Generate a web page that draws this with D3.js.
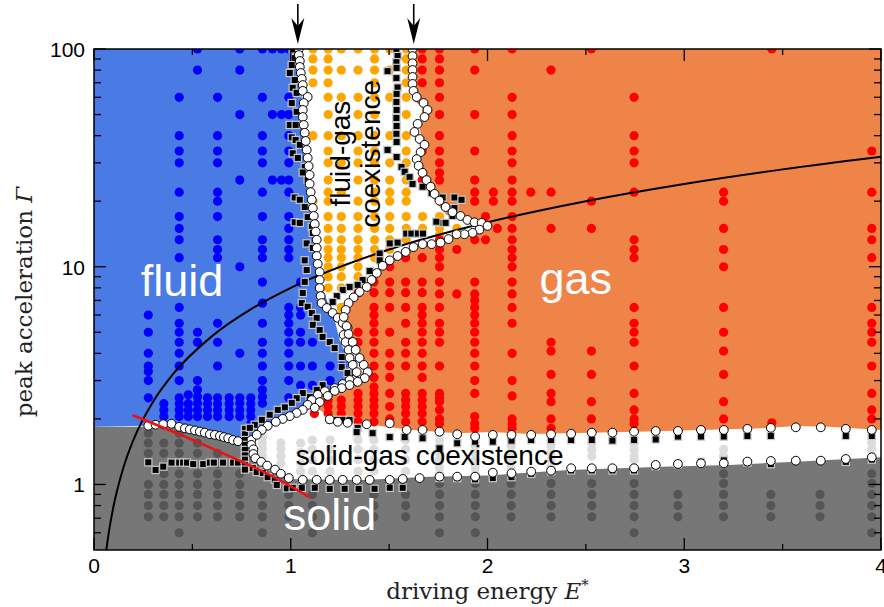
<!DOCTYPE html>
<html>
<head>
<meta charset="utf-8" />
<title></title>
<style>
html, body { margin: 0; padding: 0; background: #fff; }
svg { display: block; }
.tick-label { font-family: "Liberation Sans", Arial, sans-serif; font-size: 21px; fill: #000; }
.axis-title { font-family: "DejaVu Serif", "Liberation Serif", serif; font-size: 23px; fill: #222; }
.region { font-family: "Liberation Sans", Arial, sans-serif; }
</style>
</head>
<body>
<div id="chart"></div>
<script src="https://cdn.jsdelivr.net/npm/d3@7/dist/d3.min.js"></script>
<script>
// ---- data ----
var xTicks = [0, 1, 2, 3, 4];
var xMinor = [0.5, 1.5, 2.5, 3.5];
var yTicks = [1, 10, 100];
var yMinor = [0.6, 0.7, 0.8, 0.9, 2, 3, 4, 5, 6, 7, 8, 9, 20, 30, 40, 50, 60, 70, 80, 90];

// background phase regions [E*, Gamma]
var solidRegion = [[0,0.5],[0,1.84],[0.276,1.84],[0.394,1.88],[0.487,1.77],[0.589,1.68],[0.682,1.61],[0.732,1.56],[0.77,1.55],[0.79,1.5],[0.8,1.35],[0.83,1.25],[0.88,1.17],[0.93,1.11],[0.98,1.06],[1.2,1.05],[1.365,1.048],[1.706,1.086],[2.0,1.1],[2.416,1.166],[2.888,1.207],[3.228,1.229],[3.569,1.273],[4,1.333],[4,0.5]];
var fluidRegion = [[0,1.84],[0,100],[1.025,100],[1.046,89],[1.056,58.3],[1.061,38.2],[1.081,25],[1.096,18.8],[1.112,14.8],[1.132,9.36],[1.183,7.03],[1.223,5.69],[1.249,4.61],[1.299,3.61],[1.284,3.02],[1.198,2.66],[1.112,2.52],[1.071,2.32],[1.036,2.2],[0.97,2.02],[0.893,1.876],[0.817,1.72],[0.766,1.6],[0.726,1.57],[0.682,1.63],[0.589,1.7],[0.487,1.79],[0.394,1.9],[0.276,1.86]];
var gasRegion = [[1.619,100],[4,100],[4,1.78],[3.736,1.84],[3.569,1.857],[3.396,1.81],[2.756,1.748],[2.213,1.706],[2.025,1.74],[1.843,1.72],[1.619,1.78],[1.416,1.876],[1.198,2.04],[1.112,2.32],[1.147,2.66],[1.284,2.86],[1.35,3.12],[1.391,3.54],[1.284,4.76],[1.284,6.13],[1.315,7.03],[1.386,7.66],[1.416,8.69],[1.503,10.7],[1.589,11.7],[1.67,12.9],[1.822,13.7],[1.959,14.3],[1.985,15.4],[1.909,16.1],[1.792,17.3],[1.741,19.6],[1.69,23.2],[1.655,27],[1.64,30.9],[1.67,35.5],[1.655,43.8],[1.67,54.2],[1.619,58.3]];

// simulation points, by column [E*, [Gamma...]]
var blueDots = [
  [0.276, [6, 5, 4, 3.5, 3.3, 3, 2.5]],
  [0.355, [2.35, 2.2, 2.05]],
  [0.433, [60, 40, 34, 30, 22, 17, 15, 13.3, 11, 6.5, 5.5, 5, 4.5, 4, 3.5, 3, 2.5, 2.35, 2.2, 2.05]],
  [0.479, [2.58, 2.35, 2.2, 2.05]],
  [0.526, [100, 80, 5, 4.5, 3, 2.72, 2.53, 2.36, 2.2, 2.05]],
  [0.577, [2.5, 2.35, 2.2, 2.05]],
  [0.628, [60, 40, 34, 30, 22, 20, 17, 13.3, 12, 11, 5.5, 4.5, 3.5, 2.5, 2.35, 2.2, 2.05]],
  [0.687, [2.5, 2.35, 2.2, 2.05]],
  [0.741, [100, 80, 50, 25, 10, 4, 2.5, 2.36, 2.2, 2.05]],
  [0.797, [2.5, 2.35, 2.2, 2.05, 1.9]],
  [0.856, [100, 60, 40, 34, 30, 22, 17, 13.3, 12, 11, 8.5, 6.8, 5.5, 4.5, 4, 3.5, 3, 2.72, 2.53, 2.36]],
  [0.907, [100, 50, 25]],
  [0.953, [100, 50, 25]],
  [0.99, [100, 60, 50, 40, 34, 30, 25, 22, 17, 15, 13.3, 12, 11, 6.5, 6, 5.5, 5, 4.5, 4, 3.5, 3, 2.5]],
  [1.05, [8.5, 6.5, 6, 5, 4.5, 3.5, 2.85]],
  [1.11, [4.5, 3.5, 2.85]],
  [1.2, [3.5, 3.0]],
  [1.26, [3.5]]
];
var orangeDots = [
  [1.113, [100, 90, 80, 70, 40, 20, 17, 15]],
  [1.19, [100, 90, 80, 70, 60, 50, 40, 34, 30, 25, 22, 20, 17, 15, 13.3, 12, 11, 10, 9, 8]],
  [1.257, [100, 80, 60, 40, 30, 22, 17, 15, 13.3, 12, 11, 10, 9, 8, 6.5, 6]],
  [1.342, [100, 80, 60, 50, 40, 34, 30, 25, 20, 17, 15, 13.3, 12, 11, 10, 9]],
  [1.426, [100, 90, 80, 70, 60, 50, 40, 34, 30, 25, 22, 20, 17, 15, 13.3, 12, 11]],
  [1.503, [100, 80, 60, 40, 30, 25, 22, 20, 17, 15, 13.3, 12]],
  [1.587, [100, 90, 80, 70, 60, 50, 40, 34, 30, 25, 22, 20, 17, 15, 13.3]],
  [1.67, [17, 15]],
  [1.756, [17, 15, 14]],
  [1.844, [15, 14]]
];
var redDots = [
  [1.12, [2.12]],
  [1.19, [2.44, 2.28, 2.12]],
  [1.257, [2.44, 2.28, 2.12]],
  [1.342, [7.6, 5, 4.5, 2.62, 2.44, 2.28, 2.12, 1.94]],
  [1.423, [8.5, 7.6, 6.5, 6, 5.5, 5, 4.5, 4, 3.5, 3.1, 2.8, 2.62, 2.44, 2.28, 2.12, 1.94]],
  [1.503, [10, 8.5, 7.6, 6.5, 5, 4, 3.5, 3.1, 2.62, 2.28, 2.0]],
  [1.584, [11, 8.5, 7.6, 6.5, 5.5, 4.5, 4, 3.5, 2.62, 2.44, 2.28, 2.12, 1.94]],
  [1.668, [100, 90, 80, 70, 34, 25, 11, 8.5, 7.6, 6.5, 6, 5.5, 5, 4.5, 4, 3.5, 3.1, 2.62, 2.44, 2.28, 2.12, 1.94]],
  [1.756, [100, 90, 80, 70, 60, 50, 40, 34, 30, 27, 25, 13.3, 12, 11, 10, 8.5, 7.5, 6.5, 5.5, 5, 4.5, 3.5, 2.62, 2.5, 2.4, 2.2, 2.0, 1.9]],
  [1.844, [12, 7.5]],
  [1.935, [100, 80, 50, 34, 25, 22, 20, 13.3, 8.5, 7.5, 7, 6.5, 6, 5.5, 5, 4.5, 4, 3.5, 3, 2.62, 2.05, 1.9, 1.81]],
  [1.99, [17, 13.3]],
  [2.03, [22, 20]],
  [2.05, [15]],
  [2.125, [100, 60, 50, 40, 34, 30, 25, 22, 20, 17, 15, 13.3, 12, 11, 10, 8.5, 7.5, 6.5, 5.5, 4, 3, 2.55, 2.0, 1.9, 1.81]],
  [2.22, [22]],
  [2.323, [80, 22, 15, 4.5, 4.1, 3.2, 2.62, 2.4, 2.0, 1.81]],
  [2.528, [100, 20, 15, 4.1, 3.2, 2.4, 2.0]],
  [2.745, [60, 40, 34, 30, 22, 13.3, 12, 11, 6.5, 5.5, 5, 4.5, 3.5, 2.62, 2.2, 2.0, 1.9]],
  [3.2, [22, 20, 15, 12, 10, 6.5, 5, 4.1, 3.2, 2.4, 2.0]],
  [3.445, [100, 1.92]],
  [3.953, [34, 22, 15, 13.3, 11, 6.5, 5.5, 5, 4.5, 3.5, 2.62, 2.2, 2.0]]
];
var solidDots = [
  [0.276, [1.72, 1.55, 1.39, 1.0, 0.9, 0.8, 0.71]],
  [0.355, [1.55, 1.39, 1.12, 1.0, 0.9, 0.8, 0.71]],
  [0.433, [1.72, 1.55, 1.39, 1.25, 1.12, 1.0, 0.9, 0.8, 0.71, 0.6]],
  [0.526, [1.55, 1.39, 1.12, 1.0, 0.9, 0.8, 0.71]],
  [0.628, [1.39, 1.25, 1.12, 1.0, 0.9, 0.8, 0.71]],
  [0.741, [1.12, 1.0, 0.9, 0.8, 0.71]],
  [0.856, [0.9, 0.8, 0.71, 0.6]],
  [0.99, [0.9, 0.8, 0.71]],
  [1.11, [0.9, 0.8, 0.71, 0.6]],
  [1.423, [0.9, 0.8, 0.71]],
  [1.584, [0.9, 0.8, 0.71]],
  [1.756, [1.01, 0.9, 0.8, 0.71, 0.6]],
  [1.938, [1.01, 0.9, 0.8, 0.71, 0.6]],
  [2.12, [1.01, 0.9, 0.8, 0.71]],
  [2.323, [1.01, 0.9, 0.8, 0.71]],
  [2.53, [1.01, 0.9, 0.8, 0.71]],
  [2.745, [1.01, 0.9, 0.8, 0.71, 0.6]],
  [2.968, [0.9, 0.8, 0.71]],
  [3.2, [1.12, 1.01, 0.9, 0.8, 0.71]],
  [3.44, [0.9, 0.8, 0.71]],
  [3.69, [0.9, 0.8, 0.71]],
  [3.953, [1.12, 1.01, 0.9, 0.8, 0.71, 0.6]]
];
var coexDots = [
  [0.856, [1.65, 1.55, 1.45, 1.35, 1.25]],
  [0.95, [1.55, 1.45, 1.35, 1.25]],
  [1.05, [1.55, 1.4, 1.25, 1.15]],
  [1.11, [1.6, 1.45, 1.3, 1.15]],
  [1.2, [1.6, 1.45, 1.3, 1.15]],
  [1.342, [1.6, 1.45, 1.3, 1.15]],
  [1.423, [1.6, 1.45, 1.3, 1.15]],
  [1.584, [1.6, 1.45, 1.3, 1.15]],
  [1.756, [1.7, 1.6, 1.5, 1.4, 1.3, 1.2, 1.12]],
  [1.938, [1.6, 1.5, 1.4, 1.3, 1.2, 1.12]],
  [2.12, [1.6, 1.5, 1.4, 1.3, 1.2]],
  [2.323, [1.6, 1.5, 1.4, 1.3, 1.2]],
  [2.53, [1.55, 1.45, 1.35]],
  [2.745, [1.55, 1.45, 1.35, 1.3]],
  [3.2, [1.45, 1.35, 1.25]],
  [3.953, [1.55, 1.45, 1.35]]
];

// phase boundary estimates: open circles
var circlesFluidSolid = [[0.276,1.86],[0.313,1.88],[0.352,1.89],[0.394,1.9],[0.433,1.84],[0.462,1.81],[0.487,1.79],[0.513,1.77],[0.538,1.75],[0.563,1.73],[0.589,1.7],[0.614,1.69],[0.64,1.67],[0.66,1.65],[0.682,1.63],[0.707,1.6],[0.732,1.58],[0.8,1.6],[0.8,1.52],[0.81,1.45],[0.81,1.38],[0.82,1.32],[0.85,1.27],[0.88,1.22],[0.92,1.17],[0.95,1.12],[0.99,1.07]];
var circlesSolidGasLow = [[1.061,1.05],[1.132,1.05],[1.198,1.05],[1.264,1.05],[1.335,1.05],[1.401,1.05],[1.503,1.05],[1.569,1.06],[1.655,1.07],[1.756,1.086],[1.846,1.086],[1.937,1.086],[2.027,1.133],[2.122,1.126],[2.222,1.145],[2.323,1.157],[2.425,1.187],[2.53,1.187],[2.635,1.187],[2.745,1.187],[2.855,1.229],[2.968,1.242],[3.085,1.251],[3.201,1.251],[3.321,1.273],[3.44,1.282],[3.567,1.286],[3.694,1.286],[3.821,1.309],[3.953,1.333]];
var circlesSolidGasHigh = [[1.198,1.99],[1.239,1.94],[1.289,1.92],[1.386,1.89],[1.503,1.91],[1.589,1.78],[1.67,1.78],[1.756,1.748],[1.846,1.7],[1.937,1.66],[2.027,1.69],[2.122,1.69],[2.222,1.69],[2.323,1.7],[2.425,1.71],[2.53,1.73],[2.635,1.73],[2.745,1.748],[2.855,1.76],[2.968,1.76],[3.085,1.78],[3.201,1.78],[3.321,1.8],[3.44,1.82],[3.567,1.83],[3.694,1.83],[3.821,1.8],[3.953,1.78]];
var circlesFluidGasLeft = [[1.041,100],[1.041,93.8],[1.046,88.1],[1.046,82.7],[1.051,77.6],[1.056,72.9],[1.061,68.3],[1.061,64.2],[1.086,60.2],[1.066,56.5],[1.061,52.5],[1.061,48.7],[1.066,44.8],[1.071,41.2],[1.076,37.8],[1.081,34.4],[1.086,31.6],[1.091,29],[1.096,26.4],[1.096,24],[1.101,22],[1.107,20.3],[1.112,18.6],[1.117,17.1],[1.122,15.7],[1.127,14.5],[1.132,13.3],[1.132,12.2],[1.132,11.2],[1.137,10.3],[1.147,9.46],[1.147,8.69],[1.147,7.98],[1.152,7.33],[1.157,6.81],[1.183,6.46],[1.213,6.13],[1.239,5.82],[1.264,5.52],[1.289,5.24],[1.269,4.86],[1.279,4.51],[1.294,4.15],[1.299,3.81],[1.315,3.54],[1.335,3.28],[1.299,3.02],[1.264,2.89],[1.223,2.77],[1.173,2.68],[1.137,2.58],[1.107,2.44],[1.086,2.32],[1.061,2.2],[1.03,2.13],[0.995,2.06],[0.959,2.0],[0.924,1.94],[0.883,1.86],[0.853,1.78],[0.827,1.69]];
var circlesFluidGasRight = [[1.619,100],[1.619,92.8],[1.619,86],[1.619,80.1],[1.619,74.4],[1.619,69.1],[1.624,64.2],[1.64,60.2],[1.675,56.5],[1.695,52.5],[1.68,48.7],[1.645,45.3],[1.629,41.6],[1.655,38.6],[1.68,36.3],[1.66,33.6],[1.64,31.2],[1.65,29.1],[1.67,27],[1.69,25],[1.711,23.3],[1.731,21.6],[1.756,20.1],[1.787,18.8],[1.822,17.8],[1.863,17.1],[1.898,16.4],[1.934,16],[1.97,15.9],[2.0,15.4],[1.959,14.8],[1.924,14.3],[1.883,14.1],[1.843,14.1],[1.802,13.4],[1.761,12.9],[1.716,12.7],[1.67,12.7],[1.624,12.3],[1.584,11.7],[1.543,11.2],[1.503,10.7],[1.467,10.1],[1.437,9.36],[1.411,8.69],[1.386,8.07],[1.35,7.66],[1.32,7.23],[1.294,6.81],[1.279,6.33],[1.269,5.88],[1.284,5.34],[1.294,4.91],[1.315,4.51],[1.33,4.15],[1.35,3.81],[1.371,3.54],[1.391,3.28],[1.376,3.08],[1.34,2.96],[1.299,2.86],[1.259,2.77],[1.223,2.69],[1.188,2.55],[1.147,2.39],[1.122,2.25]];

// phase boundary estimates: filled squares
var squaresSolidRow = [[0.276,1.264],[0.313,1.166],[0.352,1.207],[0.394,1.26],[0.433,1.26],[0.453,1.26],[0.473,1.26],[0.504,1.24],[0.555,1.24],[0.589,1.26],[0.609,1.26],[0.656,1.26],[0.707,1.26],[0.732,1.26]];
var squaresSolidEdge = [[0.767,1.8],[0.767,1.7],[0.767,1.6],[0.767,1.52],[0.767,1.44],[0.767,1.36],[0.767,1.3],[0.767,1.23],[0.767,1.17],[0.807,1.19],[0.827,1.14],[0.858,1.13],[0.883,1.08],[0.919,1.05],[0.929,0.995],[0.98,0.96],[1.01,0.965],[1.056,0.965],[1.122,0.965],[1.198,0.955],[1.274,0.955],[1.345,0.955],[1.426,0.955],[1.503,0.965],[1.569,0.965],[1.756,1.07],[1.846,1.07],[1.937,1.055],[2.027,1.07],[2.122,1.08],[2.222,1.12],[2.323,1.15],[2.425,1.16],[2.53,1.16],[2.635,1.16],[2.745,1.16],[2.855,1.215],[2.968,1.24],[3.085,1.27],[3.201,1.29],[3.321,1.26],[3.44,1.24],[3.821,1.27],[3.953,1.3]];
var squaresGasEdge = [[1.198,1.98],[1.233,1.98],[1.264,1.98],[1.299,1.98],[1.34,1.82],[1.335,1.74],[1.416,1.72],[1.503,1.65],[1.579,1.65],[1.67,1.63],[1.756,1.466],[1.846,1.546],[1.937,1.572],[2.027,1.572],[2.122,1.59],[2.222,1.6],[2.323,1.6],[2.425,1.6],[2.53,1.6],[2.635,1.59],[2.745,1.6],[2.855,1.61],[2.968,1.66],[3.085,1.66],[3.201,1.66],[3.321,1.67],[3.44,1.67],[3.821,1.67],[3.953,1.67]];
var squaresFluidGasLeft = [[1.01,99.5],[1.02,90.8],[1.005,84.4],[0.995,77.6],[1.02,72],[1.01,66.3],[1.03,62.9],[1.005,56.5],[1.03,51.5],[0.995,44.8],[1.025,44.8],[1.005,39.3],[1.025,38.2],[1.046,36.3],[1.01,33.2],[1.036,31.6],[1.071,28.7],[1.061,27.1],[1.086,25],[1.02,20.8],[1.046,20.3],[1.071,18.8],[1.086,16.9],[1.02,16],[1.046,15.9],[1.107,15.2],[1.112,14.3],[1.081,12.8],[1.112,12.2],[1.071,10.7],[1.081,9.66],[1.071,8.52],[1.061,7.58],[1.056,6.81],[1.086,6.55],[1.107,6.13],[1.132,5.82],[1.112,5.41],[1.147,5.12],[1.162,4.76],[1.198,4.51],[1.223,4.23],[1.259,3.85],[1.299,3.85],[1.315,3.61],[1.259,3.46],[1.289,3.25],[1.325,3.25],[1.162,2.86],[1.132,2.72],[1.096,2.52],[1.061,2.63],[1.03,2.49],[1.005,2.37],[0.97,2.26],[0.934,2.2],[0.893,2.09],[0.853,1.98],[0.817,1.88],[0.792,1.82]];
var squaresFluidGasMid = [[1.537,99.5],[1.543,92.8],[1.537,87],[1.538,81.9],[1.492,79.1],[1.537,73.5],[1.543,66.6],[1.538,62.2],[1.537,57.1],[1.538,52.5],[1.537,48.2],[1.538,44.3],[1.537,40.8],[1.538,37.4],[1.492,34.4],[1.538,31.9],[1.563,28.7],[1.579,27.3],[1.604,25.8],[1.619,24],[1.67,23.3],[1.716,21.8],[1.772,20.8],[1.832,20.8],[1.868,20.3],[1.797,18.6],[1.832,18.6],[1.822,17.1],[1.756,15.9],[1.787,15.9],[1.74,16.1],[1.587,14.2],[1.613,14.2],[1.646,14.2],[1.672,14.2],[1.503,12.8],[1.543,12.9],[1.452,11.5],[1.452,10.7],[1.401,9.56],[1.365,8.69],[1.34,8.25],[1.299,8.07],[1.264,7.82],[1.234,7.33],[1.213,6.89]];

// theory line and red fit
var theoryLine = [[0.0625,0.5],[0.08,0.64],[0.1,0.8],[0.15,1.2],[0.2,1.6],[0.3,2.4],[0.4,3.2],[0.6,4.8],[0.8,6.4],[1,8],[1.5,12],[2,16],[2.5,20],[3,24],[3.5,28],[4,32]];
var redLine = [[0.196,2.08],[0.42,1.72],[0.656,1.39],[0.893,1.106],[1.096,0.873]];
var arrowsE = [1.036, 1.625];

// ---- layout ----
var W = 884, H = 607;
var plotL = 94, plotR = 881, plotT = 49, plotB = 550;

var x = d3.scaleLinear().domain([0, 4]).range([plotL, plotR]);
var y = d3.scaleLog().domain([0.5, 100]).range([plotB, plotT]);

var svg = d3.select("#chart").append("svg").attr("width", W).attr("height", H);

svg.append("defs").append("clipPath").attr("id", "plotclip")
  .append("rect").attr("x", plotL).attr("y", plotT).attr("width", plotR - plotL).attr("height", plotB - plotT);

var plot = svg.append("g").attr("clip-path", "url(#plotclip)");

plot.append("rect").attr("x", plotL).attr("y", plotT).attr("width", plotR - plotL).attr("height", plotB - plotT).attr("fill", "#fff");

var line = d3.line().x(function(d){ return x(d[0]); }).y(function(d){ return y(d[1]); });
var smooth = d3.line().x(function(d){ return x(d[0]); }).y(function(d){ return y(d[1]); }).curve(d3.curveMonotoneX);

plot.append("path").attr("d", line(solidRegion) + "Z").attr("fill", "#777777");
plot.append("path").attr("d", line(fluidRegion) + "Z").attr("fill", "#4a7ae4");
plot.append("path").attr("d", line(gasRegion) + "Z").attr("fill", "#ee8448");

function flatten(cols) {
  var out = [];
  cols.forEach(function(c){ c[1].forEach(function(g){ out.push([c[0], g]); }); });
  return out;
}

function dots(cols, color) {
  plot.append("g").selectAll("circle")
    .data(flatten(cols))
    .enter().append("circle")
    .attr("cx", function(d){ return x(d[0]); })
    .attr("cy", function(d){ return y(d[1]); })
    .attr("r", 4.6)
    .attr("fill", color);
}

dots(solidDots, "#555555");
dots(coexDots, "#dcdcdc");
dots(blueDots, "#0000ff");
dots(orangeDots, "#ffa500");
dots(redDots, "#ff0000");

plot.append("path")
  .attr("d", smooth(theoryLine))
  .attr("fill", "none").attr("stroke", "#000").attr("stroke-width", 2);

function squares(pts) {
  plot.append("g").selectAll("rect")
    .data(pts)
    .enter().append("rect")
    .attr("x", function(d){ return x(d[0]) - 3.6; })
    .attr("y", function(d){ return y(d[1]) - 3.6; })
    .attr("width", 7.2).attr("height", 7.2)
    .attr("fill", "#000").attr("stroke", "#c8c8c8").attr("stroke-width", 1.2);
}
squares(squaresSolidRow);
squares(squaresSolidEdge);
squares(squaresGasEdge);
squares(squaresFluidGasLeft);
squares(squaresFluidGasMid);

function rings(pts) {
  plot.append("g").selectAll("circle")
    .data(pts)
    .enter().append("circle")
    .attr("cx", function(d){ return x(d[0]); })
    .attr("cy", function(d){ return y(d[1]); })
    .attr("r", 4.4)
    .attr("fill", "#fff").attr("stroke", "#000").attr("stroke-width", 1);
}
rings(circlesFluidSolid);
rings(circlesSolidGasLow);
rings(circlesSolidGasHigh);
rings(circlesFluidGasLeft);
rings(circlesFluidGasRight);

plot.append("path")
  .attr("d", smooth(redLine))
  .attr("fill", "none").attr("stroke", "#ee1111").attr("stroke-width", 2.5);

// region labels
function label(text, e, g, size, color, rot) {
  var t = svg.append("text")
    .attr("class", "region")
    .attr("text-anchor", "middle")
    .attr("font-size", size)
    .attr("fill", color)
    .text(text);
  if (rot) t.attr("transform", "translate(" + x(e) + "," + y(g) + ") rotate(-90)");
  else t.attr("x", x(e)).attr("y", y(g));
}
label("fluid", 0.447, 7.34, 45, "#fff");
label("gas", 2.449, 7.5, 45, "#fff");
label("solid", 1.2, 0.618, 45, "#fff");
label("solid-gas coexistence", 1.706, 1.229, 28, "#000");
label("fluid-gas", 1.2995, 33.1, 28, "#000", true);
label("coexistence", 1.452, 33, 28, "#000", true);

// frame
svg.append("rect").attr("x", plotL).attr("y", plotT).attr("width", plotR - plotL).attr("height", plotB - plotT)
  .attr("fill", "none").attr("stroke", "#000").attr("stroke-width", 1.5);

var ticks = svg.append("g").attr("stroke", "#000").attr("stroke-width", 1.3);
xTicks.concat(xMinor).forEach(function(v){
  var len = xTicks.indexOf(v) >= 0 ? 12 : 6;
  ticks.append("line").attr("x1", x(v)).attr("x2", x(v)).attr("y1", plotB).attr("y2", plotB - len);
  ticks.append("line").attr("x1", x(v)).attr("x2", x(v)).attr("y1", plotT).attr("y2", plotT + len);
});
yTicks.concat(yMinor).forEach(function(v){
  var len = yTicks.indexOf(v) >= 0 ? 12 : 7;
  ticks.append("line").attr("y1", y(v)).attr("y2", y(v)).attr("x1", plotL).attr("x2", plotL + len);
  ticks.append("line").attr("y1", y(v)).attr("y2", y(v)).attr("x1", plotR).attr("x2", plotR - len);
});

svg.append("g").selectAll("text").data(xTicks).enter().append("text")
  .attr("class", "tick-label").attr("text-anchor", "middle")
  .attr("x", function(d){ return x(d); }).attr("y", 573)
  .text(function(d){ return d; });

svg.append("g").selectAll("text").data(yTicks).enter().append("text")
  .attr("class", "tick-label").attr("text-anchor", "end")
  .attr("x", plotL - 9).attr("y", function(d){ return y(d) + 8; })
  .text(function(d){ return d; });

// axis titles
var xt = svg.append("text").attr("class", "axis-title").attr("text-anchor", "middle")
  .attr("x", x(2)).attr("y", 599);
xt.append("tspan").text("driving energy ");
xt.append("tspan").attr("font-style", "italic").text("E");
xt.append("tspan").attr("font-size", 15).attr("dy", -9).text("*");

var yt = svg.append("text").attr("class", "axis-title").attr("text-anchor", "middle")
  .attr("transform", "translate(32,302) rotate(-90)");
yt.append("tspan").text("peak acceleration ");
yt.append("tspan").attr("font-style", "italic").text("Γ");

// arrows marking the two transitions
arrowsE.forEach(function(e){
  var ax = x(e);
  svg.append("line").attr("x1", ax).attr("x2", ax).attr("y1", 4).attr("y2", 30)
    .attr("stroke", "#000").attr("stroke-width", 1.6);
  svg.append("path").attr("d", "M" + ax + ",44 L" + (ax - 6.5) + ",18 L" + ax + ",26 L" + (ax + 6.5) + ",18 Z")
    .attr("fill", "#000");
});
</script>
</body>
</html>
